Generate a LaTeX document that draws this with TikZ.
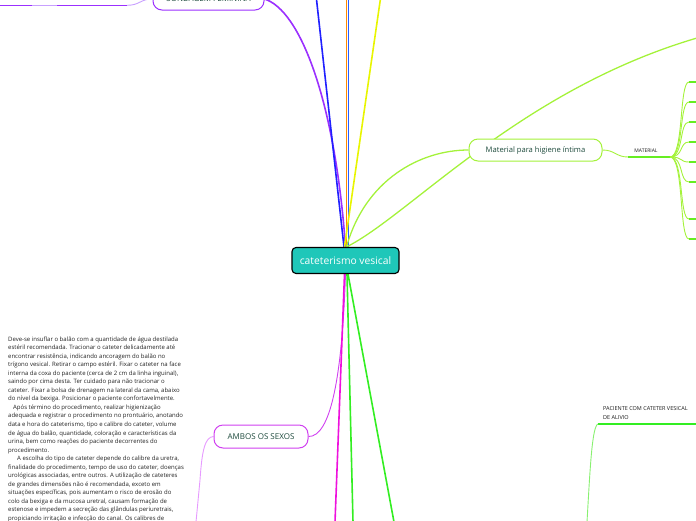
\documentclass[tikz,border=0pt]{standalone}
\usepackage{fontspec}
\setmainfont{Open Sans}
\usetikzlibrary{backgrounds}
\definecolor{hubc}{HTML}{1FC7B9}
\definecolor{purpleA}{HTML}{9B30FF}
\definecolor{purpleL}{HTML}{C8A0FF}
\definecolor{blueA}{HTML}{2020FF}
\definecolor{blueB}{HTML}{2A5CFF}
\definecolor{orangeA}{HTML}{FF8800}
\definecolor{yellowA}{HTML}{E8F500}
\definecolor{chart}{HTML}{A4F23A}
\definecolor{greenM}{HTML}{66EE22}
\definecolor{greenA}{HTML}{33EE22}
\definecolor{greenL}{HTML}{88F070}
\definecolor{magA}{HTML}{EE11DD}
\definecolor{violA}{HTML}{D040F0}
\definecolor{violL}{HTML}{E69AFF}
\definecolor{txtG}{HTML}{1D4A3C}
\definecolor{parc}{HTML}{222222}
\begin{document}
\begin{tikzpicture}[x=1pt,y=-1pt,
  hub/.style={draw=black, line width=1.1pt, fill=hubc, rounded corners=4pt, text=white,
    font=\fontsize{10.3}{12}\selectfont, minimum width=107pt, minimum height=26pt, inner sep=0pt},
  topic/.style={draw, fill=white, line width=1pt, rounded corners=9pt, text=txtG, inner sep=0pt},
  br/.style={line width=1.6pt},
  sub/.style={line width=0.9pt},
  lbl/.style={font=\fontsize{5}{6}\selectfont, text=gray!20!black, inner sep=0pt}
]
\useasboundingbox (0,0) rectangle (696,520);
\clip (0,0) rectangle (696,520);

% nodes
\node[hub] (c) at (345.5,260.5) {cateterismo vesical};
\node[topic, draw=purpleA, minimum width=111pt, minimum height=22pt, font=\fontsize{8}{10}\selectfont] (sf) at (208.5,-1) {SONDAGEM FEMININA};
\node[topic, draw=chart, minimum width=133pt, minimum height=22pt, font=\fontsize{7.6}{9}\selectfont] (mh) at (535.5,150) {Material para higiene íntima};
\node[topic, draw=violA, minimum width=94pt, minimum height=23pt, font=\fontsize{8}{10}\selectfont] (am) at (261,436.5) {AMBOS OS SEXOS};
\node[lbl] (mat) at (646,151) {MATERIAL};
\node[lbl, anchor=south west, align=left, font=\fontsize{5.5}{9}\selectfont] (pac) at (603,420) {PACIENTE COM CATETER VESICAL\\DE ALIVIO};
\node[anchor=north west, align=left, inner sep=0pt, text=parc, font=\fontsize{6}{8.52}\selectfont] (par) at (8,336.5) {%
Deve-se insuflar o balão com a quantidade de água destilada\\
estéril recomendada. Tracionar o cateter delicadamente até\\
encontrar resistência, indicando ancoragem do balão no\\
trígono vesical. Retirar o campo estéril. Fixar o cateter na face\\
interna da coxa do paciente (cerca de 2 cm da linha inguinal),\\
saindo por cima desta. Ter cuidado para não tracionar o\\
cateter. Fixar a bolsa de drenagem na lateral da cama, abaixo\\
do nível da bexiga. Posicionar o paciente confortavelmente.\\
\hspace*{5pt}Após término do procedimento, realizar higienização\\
adequada e registrar o procedimento no prontuário, anotando\\
data e hora do cateterismo, tipo e calibre do cateter, volume\\
de água do balão, quantidade, coloração e características da\\
urina, bem como reações do paciente decorrentes do\\
procedimento.\\
\hspace*{9pt}A escolha do tipo de cateter depende do calibre da uretra,\\
finalidade do procedimento, tempo de uso do cateter, doenças\\
urológicas associadas, entre outros. A utilização de cateteres\\
de grandes dimensões não é recomendada, exceto em\\
situações específicas, pois aumentam o risco de erosão do\\
colo da bexiga e da mucosa uretral, causam formação de\\
estenose e impedem a secreção das glândulas periuretrais,\\
propiciando irritação e infecção do canal. Os calibres de};

% free ends
\coordinate (tb1) at (316,-5);
\coordinate (to) at (346.5,-5);
\coordinate (tb2) at (348.5,-5);
\coordinate (ty) at (381,-5);
\coordinate (tB) at (697,38);
\coordinate (m0) at (628,157);
\coordinate (m1) at (670,157);
\coordinate (q1) at (127,5.3);
\coordinate (q2) at (57,5.3);
\coordinate (q3) at (32,5.3);
\coordinate (q4) at (-1,5.3);
\coordinate (bm) at (335,522);
\coordinate (bg1) at (353,522);
\coordinate (bg2) at (394,522);
\coordinate (av) at (196,522);
\coordinate (p0) at (598,424);
\coordinate (p1) at (697,424);
\coordinate (p2) at (587,522);

\begin{pgfonlayer}{background}
% upward branches
\draw[br, purpleA] (c.north) .. controls (335,100) and (300,10) .. (sf.east);
\draw[br, blueA] ([xshift=-1.5pt]c.north) -- (tb1);
\draw[br, orangeA] ([xshift=1pt]c.north) -- (to);
\draw[br, blueB] ([xshift=3pt]c.north) -- (tb2);
\draw[br, yellowA] ([xshift=-1pt]c.north) -- (ty);
\draw[line width=1.3pt, chart] ([xshift=1pt]c.north) .. controls (365,180) and (420,150) .. (mh.west);
\draw[line width=1.3pt, chart] ([xshift=1pt]c.north) .. controls (410,215) and (520,90) .. (tB);
% material
\draw[sub, chart] (mh.east) .. controls (615,150) and (616,157) .. (m0);
\draw[line width=1.6pt, greenM] (m0) -- (m1);
\foreach \y in {82,102,122,142,162,182,219,239}{
  \coordinate (fa) at (689,\y);
  \coordinate (fb) at (697,\y);
  \draw[sub, chart] (m1) .. controls (684,157) and (679,\y) .. (fa);
  \draw[line width=1.5pt, greenM] (fa) -- (fb);
}
% sondagem feminina left
\draw[sub, purpleL] (sf.west) .. controls (140,-1) and (140,5.3) .. (q1);
\draw[line width=1.5pt, purpleA] (q1) -- (q2);
\draw[line width=1.5pt, purpleL] (q2) -- (q3);
\draw[line width=1.5pt, purpleA] (q3) -- (q4);
% downward branches
\draw[sub, violA] (c.south) .. controls (342,380) and (330,437) .. (am.east);
\draw[br, magA] ([xshift=-1pt]c.south) -- (bm);
\draw[br, greenA] ([xshift=1.5pt]c.south) -- (bg1);
\draw[br, greenA] ([xshift=2.5pt]c.south) -- (bg2);
\draw[sub, violL] (am.west) .. controls (205,437) and (202,450) .. (200,480) -- (av);
% paciente
\draw[line width=1.5pt, greenA] (p0) -- (p1);
\draw[sub, greenL] (p0) .. controls (592,426) and (590,470) .. (p2);
\end{pgfonlayer}
\end{tikzpicture}
\end{document}
